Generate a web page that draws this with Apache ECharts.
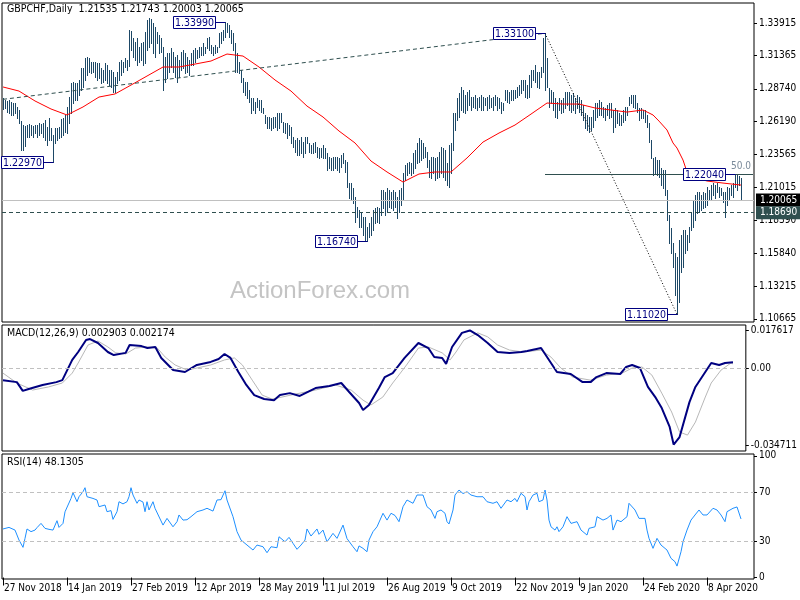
<!DOCTYPE html>
<html><head><meta charset="utf-8">
<script src="https://cdn.jsdelivr.net/npm/echarts@6/dist/echarts.min.js"></script>
<style>html,body{margin:0;padding:0;background:#fff}#c{width:800px;height:600px}</style>
</head><body><div id="c"></div>
<script>
// ---------------- DATA ----------------
const headerText = 'GBPCHF,Daily  1.21535 1.21743 1.20003 1.20065';
const macdText = 'MACD(12,26,9) 0.002903 0.002174';
const rsiText = 'RSI(14) 48.1305';

const dateTickIdx = [0,32,64,96,128,160,192,224,256,288,320,352];
const dateTickLabels = ['27 Nov 2018','14 Jan 2019','27 Feb 2019','12 Apr 2019','28 May 2019','11 Jul 2019','26 Aug 2019','9 Oct 2019','22 Nov 2019','9 Jan 2020','24 Feb 2020','8 Apr 2020'];
const slotCount = 376;

const priceTicks = [1.33915,1.31365,1.28740,1.26190,1.23565,1.21015,1.18390,1.15840,1.13215,1.10665];
const priceMin = 1.1041, priceMax = 1.3548;
const macdTicks = [0.017617, 0, -0.034711];
const macdMin = -0.03744, macdMax = 0.01989;
const rsiTicks = [100,70,30,0];
const rsiMin = -1.2, rsiMax = 101.5;

const highs = [
1.2801,1.2786,1.2778,1.2786,1.2770,1.2762,1.2762,1.2731,1.2707,1.2620,
1.2589,1.2581,1.2589,1.2597,1.2589,1.2581,1.2589,1.2589,1.2605,1.2597,
1.2605,1.2628,1.2573,1.2644,1.2566,1.2511,1.2566,1.2566,1.2573,1.2636,
1.2644,1.2668,1.2731,1.2809,1.2919,1.2927,1.2919,1.2919,1.2943,1.3037,
1.3037,1.3116,1.3124,1.3116,1.3084,1.3084,1.3084,1.3077,1.3077,1.3037,
1.3021,1.3077,1.3061,1.3021,1.3021,1.3006,1.2966,1.3006,1.3084,1.3100,
1.3084,1.3116,1.3100,1.3336,1.3328,1.3273,1.3241,1.3273,1.3202,1.3233,
1.3241,1.3320,1.3414,1.3430,1.3422,1.3391,1.3359,1.3320,1.3296,1.3273,
1.3202,1.3124,1.3155,1.3155,1.3194,1.3163,1.3124,1.3139,1.3100,1.3163,
1.3179,1.3155,1.3124,1.3100,1.3155,1.3179,1.3194,1.3179,1.3202,1.3202,
1.3233,1.3202,1.3273,1.3281,1.3218,1.3202,1.3218,1.3202,1.3312,1.3320,
1.3336,1.3399,1.3391,1.3375,1.3336,1.3312,1.3233,1.3155,1.3084,1.3021,
1.2958,1.2927,1.2927,1.2864,1.2801,1.2801,1.2770,1.2801,1.2786,1.2786,
1.2723,1.2668,1.2652,1.2652,1.2644,1.2652,1.2652,1.2683,1.2683,1.2683,
1.2613,1.2605,1.2605,1.2589,1.2573,1.2495,1.2471,1.2487,1.2471,1.2495,
1.2455,1.2495,1.2495,1.2447,1.2432,1.2447,1.2455,1.2416,1.2408,1.2408,
1.2432,1.2408,1.2369,1.2338,1.2330,1.2338,1.2338,1.2338,1.2330,1.2353,
1.2369,1.2314,1.2298,1.2133,1.2133,1.2094,1.2023,1.1944,1.1921,1.1897,
1.1866,1.1866,1.1787,1.1819,1.1866,1.1921,1.1937,1.1944,1.1937,1.2078,
1.2078,1.2062,1.2094,1.2078,1.2062,1.2078,1.2062,1.2023,1.2078,1.2094,
1.2212,1.2274,1.2290,1.2298,1.2290,1.2369,1.2393,1.2447,1.2487,1.2471,
1.2447,1.2416,1.2377,1.2314,1.2338,1.2338,1.2330,1.2338,1.2377,1.2416,
1.2408,1.2393,1.2290,1.2432,1.2447,1.2683,1.2683,1.2801,1.2840,1.2888,
1.2864,1.2825,1.2848,1.2864,1.2809,1.2809,1.2825,1.2801,1.2809,1.2825,
1.2809,1.2801,1.2809,1.2825,1.2801,1.2809,1.2825,1.2809,1.2801,1.2770,
1.2762,1.2864,1.2864,1.2848,1.2864,1.2864,1.2864,1.2888,1.2903,1.2943,
1.2943,1.2943,1.2903,1.2982,1.3021,1.3021,1.3061,1.3006,1.3006,1.3045,
1.3273,1.3310,1.3116,1.2880,1.2864,1.2848,1.2801,1.2770,1.2801,1.2786,
1.2801,1.2848,1.2848,1.2848,1.2825,1.2840,1.2801,1.2825,1.2809,1.2786,
1.2746,1.2683,1.2668,1.2652,1.2652,1.2707,1.2762,1.2762,1.2786,1.2770,
1.2731,1.2723,1.2746,1.2762,1.2762,1.2707,1.2723,1.2707,1.2683,1.2668,
1.2707,1.2731,1.2731,1.2809,1.2825,1.2825,1.2825,1.2762,1.2723,1.2723,
1.2707,1.2707,1.2668,1.2605,1.2471,1.2330,1.2338,1.2314,1.2314,1.2251,
1.2235,1.2235,1.2078,1.1882,1.1780,1.1661,1.1583,1.1551,1.1685,1.1725,
1.1764,1.1764,1.1725,1.1787,1.1905,1.2000,1.2039,1.2062,1.2062,1.2039,
1.2062,1.2055,1.2102,1.2078,1.2118,1.2133,1.2118,1.2133,1.2102,1.2094,
1.2062,1.2062,1.2102,1.2094,1.2118,1.2133,1.2204,1.2195,1.2190,1.21743
];
const lows = [
1.2715,1.2723,1.2691,1.2683,1.2668,1.2668,1.2683,1.2644,1.2605,1.2393,
1.2393,1.2424,1.2495,1.2495,1.2511,1.2495,1.2526,1.2495,1.2511,1.2526,
1.2495,1.2471,1.2432,1.2471,1.2471,1.2297,1.2447,1.2471,1.2487,1.2495,
1.2511,1.2534,1.2526,1.2605,1.2683,1.2762,1.2786,1.2786,1.2825,1.2864,
1.2888,1.2943,1.2982,1.3006,1.2998,1.3006,1.2966,1.2943,1.2958,1.2919,
1.2927,1.2943,1.2919,1.2903,1.2888,1.2848,1.2848,1.2919,1.2943,1.2982,
1.3006,1.3045,1.3021,1.3053,1.3179,1.3124,1.3100,1.3061,1.3084,1.3100,
1.3061,1.3077,1.3179,1.3202,1.3233,1.3155,1.3124,1.3233,1.3155,1.3163,
1.2864,1.2927,1.2958,1.3006,1.3045,1.3006,1.2966,1.2927,1.2966,1.3021,
1.3037,1.2998,1.3006,1.2982,1.3061,1.3061,1.3084,1.3116,1.3124,1.3139,
1.3139,1.3155,1.3194,1.3179,1.3155,1.3139,1.3155,1.3163,1.3202,1.3233,
1.3257,1.3281,1.3320,1.3281,1.3233,1.3179,1.3006,1.3006,1.2998,1.2927,
1.2848,1.2825,1.2801,1.2770,1.2683,1.2707,1.2683,1.2731,1.2707,1.2691,
1.2683,1.2605,1.2566,1.2566,1.2550,1.2566,1.2573,1.2550,1.2566,1.2613,
1.2534,1.2526,1.2487,1.2511,1.2447,1.2416,1.2377,1.2353,1.2353,1.2369,
1.2338,1.2369,1.2447,1.2377,1.2369,1.2369,1.2377,1.2338,1.2330,1.2338,
1.2330,1.2330,1.2235,1.2251,1.2235,1.2235,1.2251,1.2235,1.2220,1.2259,
1.2291,1.2220,1.2102,1.2015,1.2000,1.1976,1.1827,1.1866,1.1787,1.1787,
1.1725,1.1685,1.1674,1.1709,1.1725,1.1764,1.1819,1.1827,1.1819,1.1882,
1.1937,1.1882,1.1905,1.1944,1.1937,1.1921,1.1944,1.1858,1.1905,1.1960,
1.2000,1.2157,1.2196,1.2212,1.2196,1.2212,1.2251,1.2290,1.2298,1.2314,
1.2330,1.2338,1.2259,1.2180,1.2172,1.2212,1.2157,1.2172,1.2180,1.2212,
1.2180,1.2157,1.2118,1.2102,1.2212,1.2393,1.2550,1.2628,1.2652,1.2707,
1.2691,1.2683,1.2707,1.2746,1.2707,1.2731,1.2723,1.2707,1.2731,1.2707,
1.2707,1.2746,1.2707,1.2723,1.2731,1.2707,1.2746,1.2707,1.2723,1.2683,
1.2707,1.2786,1.2770,1.2762,1.2786,1.2786,1.2801,1.2809,1.2825,1.2840,
1.2864,1.2809,1.2801,1.2809,1.2888,1.2943,1.2927,1.2888,1.2880,1.2966,
1.3006,1.2864,1.2888,1.2731,1.2762,1.2707,1.2652,1.2644,1.2707,1.2683,
1.2691,1.2723,1.2746,1.2707,1.2691,1.2707,1.2683,1.2723,1.2691,1.2668,
1.2628,1.2566,1.2550,1.2534,1.2550,1.2573,1.2628,1.2652,1.2668,1.2668,
1.2652,1.2628,1.2668,1.2644,1.2652,1.2534,1.2573,1.2605,1.2589,1.2589,
1.2613,1.2628,1.2668,1.2746,1.2762,1.2731,1.2723,1.2691,1.2628,1.2644,
1.2644,1.2613,1.2573,1.2455,1.2330,1.2196,1.2212,1.2196,1.2180,1.2118,
1.2094,1.2039,1.1842,1.1661,1.1583,1.1473,1.1253,1.1102,1.1198,1.1434,
1.1473,1.1583,1.1607,1.1669,1.1764,1.1787,1.1842,1.1897,1.1905,1.1921,
1.1937,1.1944,1.1960,1.2000,1.2000,1.2039,1.2015,1.2062,1.2023,1.2039,
1.1984,1.1869,1.1960,1.2000,1.2039,1.2023,1.2102,1.2078,1.2118,1.20003
];

// moving average: [bar index, value]
const maPoints = [[0,1.2888],[8,1.2856],[16,1.2778],[24,1.2715],[32,1.2668],[40,1.2731],[48,1.2809],[56,1.2833],[64,1.2903],[72,1.2974],[80,1.3045],[88,1.3045],[96,1.3068],[104,1.3092],[112,1.3147],[120,1.3131],[128,1.3045],[136,1.2943],[144,1.2856],[152,1.2738],[160,1.2652],[168,1.2542],[176,1.2448],[184,1.2306],[192,1.2220],[200,1.2141],[208,1.2204],[216,1.2220],[224,1.2220],[232,1.2330],[240,1.2455],[248,1.2526],[256,1.2589],[264,1.2675],[272,1.2762],[280,1.2754],[288,1.2754],[296,1.2723],[304,1.2707],[312,1.2691],[320,1.2707],[325,1.2668],[328,1.2620],[332,1.2550],[335,1.2448],[337,1.2408],[340,1.2314],[342,1.2220],[345,1.2180],[352,1.2149],[360,1.2133],[369,1.2117]];

const macdMain = [[0,-0.0052],[7,-0.0061],[10,-0.0101],[13,-0.0092],[20,-0.0074],[27,-0.0061],[30,-0.0052],[35,0.0040],[38,0.0076],[42,0.0131],[44,0.0135],[48,0.0117],[53,0.0076],[56,0.0062],[62,0.0072],[64,0.0108],[70,0.0103],[73,0.0094],[77,0.0099],[80,0.0049],[86,-0.0006],[92,-0.0015],[98,0.0017],[105,0.0031],[109,0.0044],[112,0.0067],[115,0.0049],[119,-0.0015],[123,-0.0074],[127,-0.0120],[132,-0.0138],[137,-0.0143],[140,-0.0120],[145,-0.0111],[150,-0.0124],[158,-0.0088],[165,-0.0079],[171,-0.0065],[175,-0.0106],[180,-0.0156],[182,-0.0188],[185,-0.0165],[190,-0.0088],[193,-0.0038],[197,-0.0020],[203,0.0049],[210,0.0117],[215,0.0094],[218,0.0053],[222,0.0049],[224,0.0022],[227,0.0099],[232,0.0163],[236,0.0174],[240,0.0153],[245,0.0117],[250,0.0076],[256,0.0072],[262,0.0076],[265,0.0081],[272,0.0094],[277,0.0026],[280,-0.0015],[287,-0.0024],[293,-0.0061],[297,-0.0061],[300,-0.0038],[305,-0.0020],[312,-0.0024],[315,0.0008],[318,0.0017],[322,0.0003],[326,-0.0083],[330,-0.0133],[333,-0.0179],[337,-0.0265],[339,-0.0345],[342,-0.0311],[347,-0.0152],[350,-0.0083],[355,-0.0015],[358,0.0026],[362,0.0017],[365,0.0026],[369,0.0029]];

const macdSignal = [[0,-0.0020],[7,-0.0065],[15,-0.0097],[23,-0.0083],[30,-0.0065],[35,-0.0020],[38,0.0026],[43,0.0108],[48,0.0126],[53,0.0099],[57,0.0072],[62,0.0067],[67,0.0094],[73,0.0099],[78,0.0094],[82,0.0053],[87,0.0017],[93,-0.0006],[98,0.0003],[105,0.0017],[112,0.0040],[117,0.0049],[121,0.0017],[126,-0.0052],[131,-0.0120],[136,-0.0138],[141,-0.0129],[148,-0.0115],[158,-0.0097],[168,-0.0074],[176,-0.0097],[182,-0.0143],[186,-0.0165],[192,-0.0129],[197,-0.0065],[199,-0.0042],[204,0.0017],[210,0.0094],[215,0.0099],[222,0.0072],[226,0.0040],[229,0.0076],[233,0.0131],[240,0.0163],[245,0.0145],[250,0.0108],[256,0.0085],[263,0.0076],[272,0.0085],[277,0.0053],[282,0.0003],[288,-0.0038],[297,-0.0052],[305,-0.0029],[313,-0.0020],[318,0.0003],[323,0.0008],[328,-0.0029],[333,-0.0111],[338,-0.0197],[342,-0.0288],[346,-0.0302],[350,-0.0243],[355,-0.0129],[358,-0.0065],[363,-0.0006],[368,0.0026],[369,0.0022]];

const rsiPoints = [[0,39.9],[3,41.2],[6,39],[8,30.8],[10,24.8],[11,32.2],[12,39.9],[14,37.7],[16,39],[17,41],[19,44.5],[21,40.4],[23,39.6],[25,39],[27,46.7],[28,41.2],[30,44.5],[31,54],[32,55.5],[34,65],[35,69.7],[37,62.3],[38,66.4],[40,70.5],[41,73.8],[42,66.4],[45,65],[47,63.7],[48,58.2],[51,59.6],[52,54.1],[54,55],[55,47.8],[57,54.1],[58,62.3],[60,60.5],[62,62.3],[63,66.4],[64,73.8],[65,67.8],[67,61],[68,63.7],[70,62],[71,54.1],[72,62.3],[73,55.5],[75,62.3],[76,56.9],[77,58],[80,43.1],[82,48.6],[83,47.2],[85,41.7],[87,45.9],[88,51.4],[90,47.2],[92,47.5],[94,50],[97,54.1],[100,55.5],[102,56.9],[105,54.6],[107,63.7],[109,64],[111,71.3],[112,63.7],[115,50],[117,37.7],[119,30.8],[122,26.7],[125,22.6],[127,26.7],[130,25.3],[132,20.4],[134,25.3],[137,24.5],[138,33.5],[141,29.4],[143,33],[145,28.1],[147,23.2],[149,26.7],[151,30.8],[152,39.9],[154,34.1],[157,39.9],[158,35.5],[160,39],[162,29.4],[165,36.3],[167,32.2],[170,43.1],[172,32],[173,30.8],[175,25.3],[177,21.2],[178,26],[180,24],[182,21.2],[183,30.8],[185,37.7],[187,41.7],[188,42.5],[190,52.8],[192,47.2],[194,52.8],[196,51],[198,45.9],[199,47.2],[200,58.2],[202,63.7],[205,61],[207,67.8],[208,69.2],[210,67.8],[212,58.2],[214,55.5],[216,48.6],[217,54.1],[219,55.5],[221,52.8],[222,45.9],[223,44],[225,55.5],[226,67.8],[228,71.9],[230,69],[232,70.5],[234,67.8],[237,66.4],[240,66.4],[242,62.3],[245,61],[247,62.3],[249,56.9],[252,63.7],[254,62.3],[256,65],[257,62.3],[259,69.2],[261,66.4],[262,55.5],[263,62.3],[265,67.8],[267,69.2],[268,62.3],[270,63.7],[271,71.9],[272,63.7],[273,47.2],[274,41.7],[276,39],[277,41.7],[278,37.7],[280,41.7],[282,50],[284,44.5],[287,45.9],[289,39],[292,34.9],[293,40.4],[296,41.7],[297,50],[300,47.2],[302,48.6],[304,51.4],[305,39],[307,47.2],[309,45.9],[312,50],[313,61],[314,61.8],[316,55.5],[318,48.6],[321,48.6],[322,39],[323,32.2],[325,24],[327,32.2],[329,26.7],[332,22.6],[334,15.8],[336,13],[337,9.4],[339,21.2],[340,29.4],[342,39],[344,47.2],[346,51.4],[348,55.5],[350,51.4],[352,51.4],[355,56.9],[357,55.5],[359,51.4],[361,45.9],[362,54.1],[365,56.9],[367,58],[368,59],[369,48.1305]];

// annotations: swing points [bar index, price]
const annoIdx = [111,271,25,182,366,337];
const annoPrice = [1.33990,1.33100,1.22970,1.16740,1.22040,1.11020];
// trend lines
const trendA = [[0,1.2791],[271,1.3310]];
const trendB = [[271,1.3310],[337,1.1102]];
const fibStart = 271, fibEnd = 375, fibLevel = 1.2206, fibText = '50.0';
const lastPrice = 1.20065;
const supportLevel = 1.18690;

// ---------------- CHART ----------------
const FONT = '"DejaVu Sans Condensed","DejaVu Sans",sans-serif';
const BAR_COLOR = '#1d4866';
const slots = Array.from({length: slotCount}, (_, i) => String(i));
const tickMap = {};
dateTickIdx.forEach((ix, k) => { tickMap[ix] = dateTickLabels[k]; });
const bars = highs.map((h, i) => [i, h, lows[i]]);
const annos = annoIdx.map((ix, k) => [ix, annoPrice[k]]);

const grids = [
  {left: 2, right: 46, top: 3, height: 319},
  {left: 2, right: 46, top: 325, height: 126},
  {left: 2, right: 46, top: 454, height: 125}
].map(g => Object.assign(g, {show: true, borderColor: '#000', borderWidth: 1, backgroundColor: 'transparent'}));

function xAx(gi, show) {
  return {
    type: 'category', gridIndex: gi, data: slots, boundaryGap: true,
    axisLine: {show: false}, splitLine: {show: false},
    axisTick: show ? {show: true, alignWithLabel: true, length: 8, interval: (i) => tickMap[i] !== undefined, lineStyle: {color: '#000'}} : {show: false},
    axisLabel: show ? {show: true, interval: (i) => tickMap[i] !== undefined, formatter: (v, i) => tickMap[i] || '', align: 'left', margin: 4, padding: [0,0,0,1], color: '#000', fontSize: 10, fontFamily: FONT} : {show: false}
  };
}
function yAx(gi, min, max, ticks, fmt) {
  return {
    type: 'value', gridIndex: gi, position: 'right', min: min, max: max, scale: true,
    axisLine: {show: false}, splitLine: {show: false},
    axisTick: {show: true, customValues: ticks, length: 3, lineStyle: {color: '#000'}},
    axisLabel: {show: true, customValues: ticks, formatter: fmt, color: '#000', fontSize: 10, fontFamily: FONT, margin: 5}
  };
}

const tagLabel = (txt, bg) => ({show: true, position: 'end', formatter: txt, backgroundColor: bg, color: '#fff', padding: [2,4,1,4], fontSize: 10, fontFamily: FONT, distance: 2});

const option = {
  animation: false,
  backgroundColor: '#fff',
  grid: grids,
  xAxis: [xAx(0, false), xAx(1, false), xAx(2, true)],
  yAxis: [
    yAx(0, priceMin, priceMax, priceTicks, v => v.toFixed(5)),
    yAx(1, macdMin, macdMax, macdTicks, v => v === 0 ? '0.00' : v.toFixed(6)),
    yAx(2, rsiMin, rsiMax, rsiTicks, v => String(v))
  ],
  graphic: [
    {type: 'text', left: 230, top: 279, z: 0, silent: true, style: {text: 'ActionForex.com', fill: '#c4c4c4', font: '24px "Liberation Sans", Arial, sans-serif'}},
    {type: 'text', left: 7, top: 4, z: 10, style: {text: headerText, fill: '#000', font: '10.5px ' + FONT}},
    {type: 'text', left: 7, top: 328, z: 10, style: {text: macdText, fill: '#000', font: '10.5px ' + FONT}},
    {type: 'text', left: 7, top: 457, z: 10, style: {text: rsiText, fill: '#000', font: '10.5px ' + FONT}}
  ],
  series: [
    {
      type: 'custom', name: 'bars', xAxisIndex: 0, yAxisIndex: 0, z: 3, silent: true,
      data: bars,
      renderItem: function (params, api) {
        const i = api.value(0);
        const hi = api.coord([i, api.value(1)]);
        const lo = api.coord([i, api.value(2)]);
        const x = Math.round(hi[0]) + 0.5;
        return {type: 'line', shape: {x1: x, y1: Math.round(hi[1]), x2: x, y2: Math.round(lo[1]) + 1}, style: {stroke: BAR_COLOR, lineWidth: 1}};
      }
    },
    {
      type: 'line', name: 'MA', xAxisIndex: 0, yAxisIndex: 0, z: 4, silent: true,
      data: maPoints, showSymbol: false, symbol: 'none',
      lineStyle: {color: '#ff0000', width: 1},
      markLine: {
        silent: true, symbol: ['none', 'none'], animation: false,
        data: [
          {yAxis: lastPrice, lineStyle: {color: '#c0c0c0', type: 'solid', width: 1}, label: tagLabel(lastPrice.toFixed(5), '#000')},
          {yAxis: supportLevel, lineStyle: {color: '#2f4f4f', type: [4, 3], width: 1}, label: tagLabel(supportLevel.toFixed(5), '#2f4f4f')},
          [{coord: trendA[0], lineStyle: {color: '#2f4f4f', type: [4, 3], width: 1}, label: {show: false}}, {coord: trendA[1], lineStyle: {color: '#2f4f4f', type: [4, 3], width: 1}}],
          [{coord: trendB[0], lineStyle: {color: '#000', type: [1, 2], width: 1}, label: {show: false}}, {coord: trendB[1], lineStyle: {color: '#000', type: [1, 2], width: 1}}],
          [{coord: [fibStart, fibLevel], lineStyle: {color: '#2f4f4f', type: 'solid', width: 1}, label: {show: true, position: 'insideEndTop', formatter: fibText, color: '#7a8a9a', fontSize: 10, fontFamily: FONT, distance: 2}}, {coord: [fibEnd, fibLevel]}]
        ]
      }
    },
    {
      type: 'custom', name: 'anno', xAxisIndex: 0, yAxisIndex: 0, z: 10, silent: true,
      data: annos,
      renderItem: function (params, api) {
        const p = api.coord([api.value(0), api.value(1)]);
        const x = Math.round(p[0]) + 0.5, y = Math.round(p[1]) + 0.5;
        const txt = annoPrice[params.dataIndex].toFixed(5);
        return {type: 'group', children: [
          {type: 'line', shape: {x1: x - 10, y1: y, x2: x, y2: y}, style: {stroke: '#000080', lineWidth: 1}},
          {type: 'rect', shape: {x: x - 52, y: y - 6, width: 42, height: 12}, style: {fill: '#fff', stroke: '#000080', lineWidth: 1}},
          {type: 'text', style: {text: txt, x: x - 31, y: y + 0.5, align: 'center', verticalAlign: 'middle', fill: '#000080', font: '10.5px ' + FONT}}
        ]};
      }
    },
    {
      type: 'line', name: 'Signal', xAxisIndex: 1, yAxisIndex: 1, z: 3, silent: true,
      data: macdSignal, showSymbol: false, symbol: 'none',
      lineStyle: {color: '#b8b8b8', width: 1},
      markLine: {silent: true, symbol: ['none', 'none'], label: {show: false},
        data: [{yAxis: 0}], lineStyle: {color: '#c0c0c0', type: [4, 3], width: 1}}
    },
    {
      type: 'line', name: 'MACD', xAxisIndex: 1, yAxisIndex: 1, z: 4, silent: true,
      data: macdMain, showSymbol: false, symbol: 'none',
      lineStyle: {color: '#000080', width: 2}
    },
    {
      type: 'line', name: 'RSI', xAxisIndex: 2, yAxisIndex: 2, z: 4, silent: true,
      data: rsiPoints, showSymbol: false, symbol: 'none',
      lineStyle: {color: '#1e90ff', width: 1},
      markLine: {silent: true, symbol: ['none', 'none'], label: {show: false},
        data: [{yAxis: 70}, {yAxis: 30}], lineStyle: {color: '#c0c0c0', type: [4, 3], width: 1}}
    }
  ]
};

const chart = echarts.init(document.getElementById('c'), null, {renderer: 'canvas'});
chart.setOption(option);
</script>
</body></html>
